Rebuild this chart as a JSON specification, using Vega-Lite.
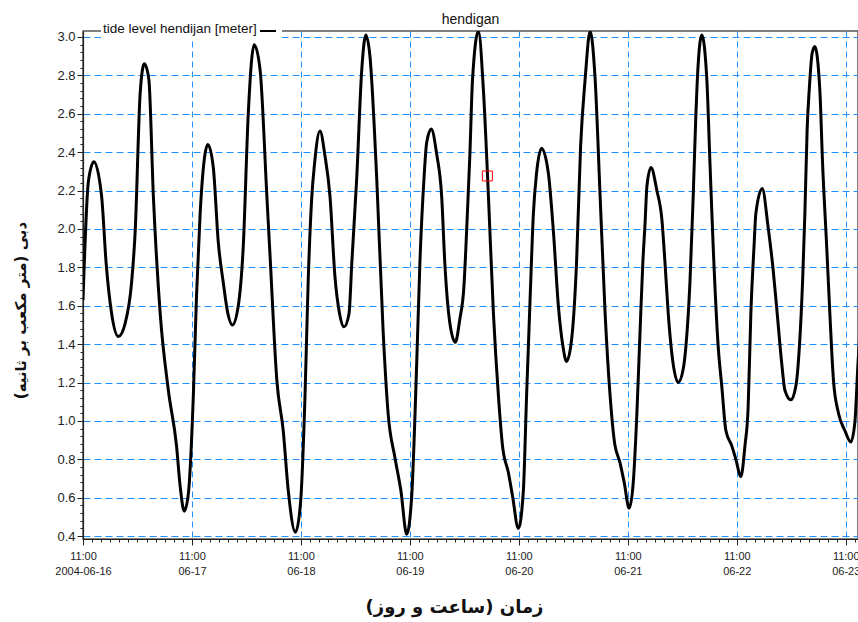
{
  "$schema": "https://vega.github.io/schema/vega-lite/v6.json",
  "width": 775,
  "height": 508,
  "autosize": {"type": "none"},
  "padding": {"left": 83, "top": 31, "right": 0, "bottom": 83},
  "background": "white",
  "title": {"text": "hendigan", "font": "Liberation Sans", "fontSize": 14, "fontWeight": "normal", "color": "#111", "offset": 5, "dy": 12},
  "config": {
    "view": {"stroke": "#555", "strokeWidth": 1.5},
    "axis": {"labelFont": "Liberation Sans", "labelColor": "#222", "domainColor": "#222", "tickColor": "#222", "domainWidth": 1.2, "tickWidth": 1, "labelFlush": false, "labelOverlap": false}
  },
  "resolve": {"axis": {"x": "independent", "y": "independent"}},
  "layer": [
    {
      "data": {"values": [
        {"time": "2004-06-16T11:00Z", "level": 1.63},
        {"time": "2004-06-16T12:12Z", "level": 2.25},
        {"time": "2004-06-16T13:24Z", "level": 2.35},
        {"time": "2004-06-16T15:06Z", "level": 2.17},
        {"time": "2004-06-16T16:06Z", "level": 1.82},
        {"time": "2004-06-16T17:18Z", "level": 1.56},
        {"time": "2004-06-16T18:48Z", "level": 1.44},
        {"time": "2004-06-16T20:18Z", "level": 1.51},
        {"time": "2004-06-16T21:42Z", "level": 1.72},
        {"time": "2004-06-16T22:30Z", "level": 1.99},
        {"time": "2004-06-16T23:36Z", "level": 2.71},
        {"time": "2004-06-17T00:30Z", "level": 2.86},
        {"time": "2004-06-17T01:30Z", "level": 2.78},
        {"time": "2004-06-17T02:30Z", "level": 2.17},
        {"time": "2004-06-17T04:00Z", "level": 1.56},
        {"time": "2004-06-17T05:48Z", "level": 1.16},
        {"time": "2004-06-17T07:36Z", "level": 0.87},
        {"time": "2004-06-17T08:24Z", "level": 0.66},
        {"time": "2004-06-17T09:18Z", "level": 0.53},
        {"time": "2004-06-17T10:12Z", "level": 0.62},
        {"time": "2004-06-17T11:18Z", "level": 1.13},
        {"time": "2004-06-17T12:00Z", "level": 1.65},
        {"time": "2004-06-17T12:48Z", "level": 2.08},
        {"time": "2004-06-17T13:42Z", "level": 2.36},
        {"time": "2004-06-17T14:30Z", "level": 2.44},
        {"time": "2004-06-17T15:42Z", "level": 2.32},
        {"time": "2004-06-17T16:48Z", "level": 1.93},
        {"time": "2004-06-17T17:54Z", "level": 1.72},
        {"time": "2004-06-17T18:54Z", "level": 1.56},
        {"time": "2004-06-17T19:54Z", "level": 1.50},
        {"time": "2004-06-17T21:12Z", "level": 1.60},
        {"time": "2004-06-17T22:18Z", "level": 1.91},
        {"time": "2004-06-17T23:24Z", "level": 2.60},
        {"time": "2004-06-18T00:42Z", "level": 2.96},
        {"time": "2004-06-18T02:00Z", "level": 2.83},
        {"time": "2004-06-18T03:30Z", "level": 2.17},
        {"time": "2004-06-18T04:12Z", "level": 1.86},
        {"time": "2004-06-18T05:42Z", "level": 1.21},
        {"time": "2004-06-18T07:06Z", "level": 0.95},
        {"time": "2004-06-18T08:12Z", "level": 0.64},
        {"time": "2004-06-18T09:48Z", "level": 0.42},
        {"time": "2004-06-18T10:54Z", "level": 0.57},
        {"time": "2004-06-18T11:54Z", "level": 1.13},
        {"time": "2004-06-18T12:36Z", "level": 1.73},
        {"time": "2004-06-18T13:24Z", "level": 2.17},
        {"time": "2004-06-18T14:00Z", "level": 2.34},
        {"time": "2004-06-18T15:12Z", "level": 2.51},
        {"time": "2004-06-18T16:18Z", "level": 2.38},
        {"time": "2004-06-18T17:24Z", "level": 2.17},
        {"time": "2004-06-18T18:30Z", "level": 1.75},
        {"time": "2004-06-18T19:30Z", "level": 1.56},
        {"time": "2004-06-18T20:30Z", "level": 1.49},
        {"time": "2004-06-18T21:36Z", "level": 1.56},
        {"time": "2004-06-18T22:12Z", "level": 1.82},
        {"time": "2004-06-18T23:18Z", "level": 2.27},
        {"time": "2004-06-19T00:24Z", "level": 2.83},
        {"time": "2004-06-19T01:18Z", "level": 3.01},
        {"time": "2004-06-19T02:12Z", "level": 2.90},
        {"time": "2004-06-19T03:42Z", "level": 2.26},
        {"time": "2004-06-19T05:06Z", "level": 1.47},
        {"time": "2004-06-19T06:12Z", "level": 1.04},
        {"time": "2004-06-19T07:42Z", "level": 0.81},
        {"time": "2004-06-19T09:00Z", "level": 0.64},
        {"time": "2004-06-19T10:18Z", "level": 0.41},
        {"time": "2004-06-19T11:24Z", "level": 0.61},
        {"time": "2004-06-19T12:30Z", "level": 1.30},
        {"time": "2004-06-19T13:12Z", "level": 1.82},
        {"time": "2004-06-19T14:06Z", "level": 2.26},
        {"time": "2004-06-19T14:42Z", "level": 2.45},
        {"time": "2004-06-19T15:42Z", "level": 2.52},
        {"time": "2004-06-19T16:54Z", "level": 2.39},
        {"time": "2004-06-19T18:00Z", "level": 2.17},
        {"time": "2004-06-19T18:42Z", "level": 1.82},
        {"time": "2004-06-19T19:48Z", "level": 1.51},
        {"time": "2004-06-19T21:00Z", "level": 1.41},
        {"time": "2004-06-19T22:00Z", "level": 1.53},
        {"time": "2004-06-19T22:54Z", "level": 1.70},
        {"time": "2004-06-19T23:30Z", "level": 1.99},
        {"time": "2004-06-20T00:12Z", "level": 2.38},
        {"time": "2004-06-20T00:48Z", "level": 2.78},
        {"time": "2004-06-20T02:06Z", "level": 3.03},
        {"time": "2004-06-20T03:12Z", "level": 2.72},
        {"time": "2004-06-20T04:18Z", "level": 2.17},
        {"time": "2004-06-20T05:24Z", "level": 1.56},
        {"time": "2004-06-20T06:30Z", "level": 1.13},
        {"time": "2004-06-20T07:24Z", "level": 0.87},
        {"time": "2004-06-20T08:42Z", "level": 0.73},
        {"time": "2004-06-20T09:36Z", "level": 0.61},
        {"time": "2004-06-20T10:54Z", "level": 0.44},
        {"time": "2004-06-20T12:00Z", "level": 0.64},
        {"time": "2004-06-20T12:42Z", "level": 1.13},
        {"time": "2004-06-20T13:30Z", "level": 1.65},
        {"time": "2004-06-20T14:12Z", "level": 2.08},
        {"time": "2004-06-20T14:54Z", "level": 2.29},
        {"time": "2004-06-20T16:00Z", "level": 2.42},
        {"time": "2004-06-20T17:30Z", "level": 2.29},
        {"time": "2004-06-20T18:36Z", "level": 1.99},
        {"time": "2004-06-20T19:42Z", "level": 1.60},
        {"time": "2004-06-20T20:42Z", "level": 1.39},
        {"time": "2004-06-20T21:30Z", "level": 1.31},
        {"time": "2004-06-20T22:36Z", "level": 1.42},
        {"time": "2004-06-20T23:42Z", "level": 1.82},
        {"time": "2004-06-21T00:36Z", "level": 2.43},
        {"time": "2004-06-21T01:36Z", "level": 2.78},
        {"time": "2004-06-21T02:42Z", "level": 3.03},
        {"time": "2004-06-21T03:48Z", "level": 2.78},
        {"time": "2004-06-21T04:54Z", "level": 2.17},
        {"time": "2004-06-21T06:00Z", "level": 1.56},
        {"time": "2004-06-21T07:06Z", "level": 1.13},
        {"time": "2004-06-21T08:00Z", "level": 0.90},
        {"time": "2004-06-21T09:18Z", "level": 0.78},
        {"time": "2004-06-21T10:12Z", "level": 0.68},
        {"time": "2004-06-21T11:18Z", "level": 0.545},
        {"time": "2004-06-21T12:12Z", "level": 0.68},
        {"time": "2004-06-21T13:00Z", "level": 1.04},
        {"time": "2004-06-21T13:42Z", "level": 1.47},
        {"time": "2004-06-21T14:18Z", "level": 1.82},
        {"time": "2004-06-21T14:48Z", "level": 2.03},
        {"time": "2004-06-21T15:12Z", "level": 2.22},
        {"time": "2004-06-21T16:06Z", "level": 2.32},
        {"time": "2004-06-21T17:24Z", "level": 2.20},
        {"time": "2004-06-21T18:30Z", "level": 2.05},
        {"time": "2004-06-21T19:12Z", "level": 1.82},
        {"time": "2004-06-21T19:54Z", "level": 1.56},
        {"time": "2004-06-21T20:42Z", "level": 1.35},
        {"time": "2004-06-21T22:06Z", "level": 1.20},
        {"time": "2004-06-21T23:12Z", "level": 1.27},
        {"time": "2004-06-21T23:48Z", "level": 1.39},
        {"time": "2004-06-22T00:42Z", "level": 1.73},
        {"time": "2004-06-22T01:24Z", "level": 2.17},
        {"time": "2004-06-22T02:00Z", "level": 2.60},
        {"time": "2004-06-22T02:30Z", "level": 2.86},
        {"time": "2004-06-22T03:18Z", "level": 3.01},
        {"time": "2004-06-22T04:24Z", "level": 2.78},
        {"time": "2004-06-22T05:06Z", "level": 2.34},
        {"time": "2004-06-22T05:48Z", "level": 1.91},
        {"time": "2004-06-22T06:54Z", "level": 1.39},
        {"time": "2004-06-22T07:42Z", "level": 1.18},
        {"time": "2004-06-22T08:36Z", "level": 0.95},
        {"time": "2004-06-22T09:54Z", "level": 0.87},
        {"time": "2004-06-22T10:48Z", "level": 0.80},
        {"time": "2004-06-22T11:54Z", "level": 0.71},
        {"time": "2004-06-22T12:48Z", "level": 0.87},
        {"time": "2004-06-22T13:30Z", "level": 1.07},
        {"time": "2004-06-22T14:06Z", "level": 1.56},
        {"time": "2004-06-22T14:48Z", "level": 1.91},
        {"time": "2004-06-22T15:12Z", "level": 2.08},
        {"time": "2004-06-22T16:36Z", "level": 2.21},
        {"time": "2004-06-22T17:54Z", "level": 2.01},
        {"time": "2004-06-22T19:00Z", "level": 1.79},
        {"time": "2004-06-22T19:54Z", "level": 1.56},
        {"time": "2004-06-22T20:54Z", "level": 1.30},
        {"time": "2004-06-22T21:36Z", "level": 1.16},
        {"time": "2004-06-22T22:54Z", "level": 1.11},
        {"time": "2004-06-23T00:00Z", "level": 1.18},
        {"time": "2004-06-23T00:48Z", "level": 1.39},
        {"time": "2004-06-23T01:30Z", "level": 1.73},
        {"time": "2004-06-23T02:00Z", "level": 2.08},
        {"time": "2004-06-23T02:30Z", "level": 2.52},
        {"time": "2004-06-23T03:00Z", "level": 2.74},
        {"time": "2004-06-23T03:36Z", "level": 2.915},
        {"time": "2004-06-23T04:12Z", "level": 2.95},
        {"time": "2004-06-23T05:18Z", "level": 2.72},
        {"time": "2004-06-23T05:54Z", "level": 2.34},
        {"time": "2004-06-23T06:48Z", "level": 1.91},
        {"time": "2004-06-23T07:30Z", "level": 1.56},
        {"time": "2004-06-23T08:18Z", "level": 1.21},
        {"time": "2004-06-23T09:24Z", "level": 1.04},
        {"time": "2004-06-23T10:48Z", "level": 0.95},
        {"time": "2004-06-23T12:06Z", "level": 0.89},
        {"time": "2004-06-23T13:00Z", "level": 0.99},
        {"time": "2004-06-23T13:42Z", "level": 1.30},
        {"time": "2004-06-23T14:30Z", "level": 1.60}
      ]},
      "mark": {"type": "line", "strokeWidth": 3, "interpolate": "monotone", "clip": true},
      "encoding": {
        "x": {
          "field": "time", "type": "temporal",
          "scale": {"type": "utc", "domain": [1087383600000, 1087998120000], "nice": false},
          "axis": {
            "orient": "bottom",
            "values": [1087383600000, 1087470000000, 1087556400000, 1087642800000, 1087729200000, 1087815600000, 1087902000000, 1087988400000],
            "labelExpr": "[utcFormat(datum.value, '%H:%M'), utcdate(datum.value) == 16 ? utcFormat(datum.value, '%Y-%m-%d') : utcFormat(datum.value, '%m-%d')]",
            "labelFontSize": 11,
            "labelLineHeight": 15,
            "labelPadding": 5,
            "tickSize": 6,
            "grid": true, "gridColor": "#1e8fff", "gridDash": [6, 4], "gridWidth": 1,
            "title": "زمان (ساعت و روز)",
            "titleFont": "DejaVu Sans", "titleFontSize": 18, "titleFontWeight": "bold", "titleColor": "#111",
            "titleX": 371, "titleY": 68, "titleBaseline": "middle", "titleAlign": "center"
          }
        },
        "y": {
          "field": "level", "type": "quantitative",
          "scale": {"domain": [0.385, 3.031], "nice": false, "zero": false},
          "axis": {
            "orient": "left",
            "values": [0.4, 0.6, 0.8, 1.0, 1.2, 1.4, 1.6, 1.8, 2.0, 2.2, 2.4, 2.6, 2.8, 3.0],
            "format": ".1f",
            "labelFontSize": 13,
            "labelPadding": 2,
            "tickSize": 6,
            "grid": true, "gridColor": "#1e8fff", "gridDash": [7, 4], "gridWidth": 1,
            "title": "دبی (متر مکعب بر ثانیه)",
            "titleFont": "DejaVu Sans", "titleFontSize": 15, "titleFontWeight": "bold", "titleColor": "#111",
            "titleX": -63, "titleY": 279, "titleBaseline": "middle", "titleAlign": "center", "titleAngle": -90
          }
        },
        "color": {
          "datum": "tide level hendijan [meter]", "type": "nominal",
          "scale": {"range": ["black"]},
          "legend": {
            "orient": "none", "legendX": 18, "legendY": -11,
            "title": "tide level hendijan [meter]", "titleOrient": "left",
            "titleFont": "Liberation Sans", "titleFontSize": 13.5, "titleFontWeight": "normal", "titleColor": "#111", "titlePadding": 2,
            "labelExpr": "''", "labelOffset": 0,
            "symbolType": "stroke", "symbolSize": 256, "symbolStrokeWidth": 2,
            "fillColor": "white", "padding": 2
          }
        }
      }
    },
    {
      "data": {"values": [{"time": "2004-06-20T04:04Z", "level": 2.276}]},
      "mark": {"type": "point", "shape": "square", "size": 100, "filled": false, "stroke": "red", "strokeWidth": 1, "opacity": 1},
      "encoding": {
        "x": {
          "field": "time", "type": "temporal",
          "axis": {
            "orient": "bottom", "labels": false, "domain": false, "grid": false, "title": null, "tickSize": 3,
            "values": [1087383600000, 1087390800000, 1087398000000, 1087405200000, 1087412400000, 1087419600000, 1087426800000, 1087434000000, 1087441200000, 1087448400000, 1087455600000, 1087462800000, 1087470000000, 1087477200000, 1087484400000, 1087491600000, 1087498800000, 1087506000000, 1087513200000, 1087520400000, 1087527600000, 1087534800000, 1087542000000, 1087549200000, 1087556400000, 1087563600000, 1087570800000, 1087578000000, 1087585200000, 1087592400000, 1087599600000, 1087606800000, 1087614000000, 1087621200000, 1087628400000, 1087635600000, 1087642800000, 1087650000000, 1087657200000, 1087664400000, 1087671600000, 1087678800000, 1087686000000, 1087693200000, 1087700400000, 1087707600000, 1087714800000, 1087722000000, 1087729200000, 1087736400000, 1087743600000, 1087750800000, 1087758000000, 1087765200000, 1087772400000, 1087779600000, 1087786800000, 1087794000000, 1087801200000, 1087808400000, 1087815600000, 1087822800000, 1087830000000, 1087837200000, 1087844400000, 1087851600000, 1087858800000, 1087866000000, 1087873200000, 1087880400000, 1087887600000, 1087894800000, 1087902000000, 1087909200000, 1087916400000, 1087923600000, 1087930800000, 1087938000000, 1087945200000, 1087952400000, 1087959600000, 1087966800000, 1087974000000, 1087981200000, 1087988400000, 1087995600000]
          }
        },
        "y": {
          "field": "level", "type": "quantitative",
          "axis": {
            "orient": "left", "labels": false, "domain": false, "grid": false, "title": null, "tickSize": 3,
            "values": [0.4, 0.44, 0.48, 0.52, 0.56, 0.6, 0.64, 0.68, 0.72, 0.76, 0.8, 0.84, 0.88, 0.92, 0.96, 1.0, 1.04, 1.08, 1.12, 1.16, 1.2, 1.24, 1.28, 1.32, 1.36, 1.4, 1.44, 1.48, 1.52, 1.56, 1.6, 1.64, 1.68, 1.72, 1.76, 1.8, 1.84, 1.88, 1.92, 1.96, 2.0, 2.04, 2.08, 2.12, 2.16, 2.2, 2.24, 2.28, 2.32, 2.36, 2.4, 2.44, 2.48, 2.52, 2.56, 2.6, 2.64, 2.68, 2.72, 2.76, 2.8, 2.84, 2.88, 2.92, 2.96, 3.0]
          }
        }
      }
    }
  ]
}
